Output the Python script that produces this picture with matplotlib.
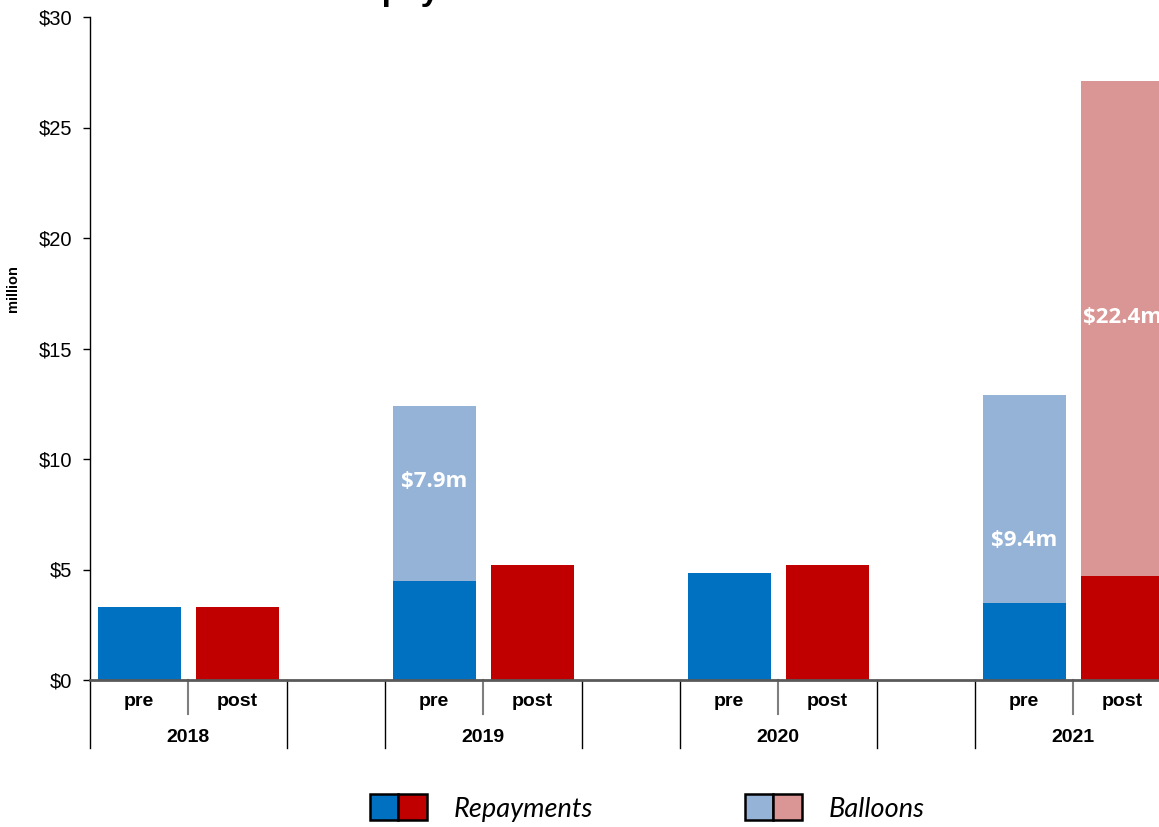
import matplotlib.pyplot as plt
from matplotlib.patches import Patch
from matplotlib.legend_handler import HandlerTuple

years = ['2018', '2019', '2020', '2021']
phases = ['pre', 'post']
pre_repay = [3.3, 4.5, 4.85, 3.5]
post_repay = [3.3, 5.2, 5.2, 4.7]
pre_balloon = [0, 7.9, 0, 9.4]
post_balloon = [0, 0, 0, 22.4]

c_repay = ['#0070C0', '#C00000']
c_balloon = ['#95B3D7', '#D99694']

narrow = ['Liberation Sans Narrow', 'Liberation Sans', 'DejaVu Sans']
W, H = 1159, 827
fig = plt.figure(figsize=(W / 100, H / 100), dpi=100)
ax = fig.add_axes([90 / W, (H - 680) / H, 1180 / W, 663 / H])

# three slots per year: pre, post, blank
x_pre = [3 * i for i in range(len(years))]
x_post = [3 * i + 1 for i in range(len(years))]
bw = 0.845
ax.bar(x_pre, pre_repay, bw, color=c_repay[0])
ax.bar(x_pre, pre_balloon, bw, bottom=pre_repay, color=c_balloon[0])
ax.bar(x_post, post_repay, bw, color=c_repay[1])
ax.bar(x_post, post_balloon, bw, bottom=post_repay, color=c_balloon[1])

# balloon value labels
lab_y_pre = [None, 9.0, None, 6.3]
lab_y_post = [None, None, None, 16.4]
for xs, vals, ly in [(x_pre, pre_balloon, lab_y_pre), (x_post, post_balloon, lab_y_post)]:
    for x, v, y in zip(xs, vals, ly):
        if v:
            ax.text(x, y, f'${v:.1f}m', ha='center', va='center', color='white',
                    fontsize=16, fontweight='bold', family=['Open Sans', 'DejaVu Sans'])

ax.set_xlim(-0.5, 11.5)
ax.set_ylim(0, 30)
ax.set_yticks(range(0, 31, 5))
ax.set_yticklabels([f'${v}' for v in range(0, 31, 5)], family=narrow, fontsize=14.5)
ax.tick_params(axis='y', length=5, width=1, pad=8)
ax.set_xticks([])
for s in ['top', 'right']:
    ax.spines[s].set_visible(False)
ax.spines['left'].set_linewidth(1)
ax.spines['bottom'].set_color('#595959')
ax.spines['bottom'].set_linewidth(2)

ax.set_ylabel('million', family=['Liberation Sans', 'DejaVu Sans'], fontsize=10.5,
              fontweight='bold', labelpad=0)
ax.yaxis.set_label_coords(-70 / 1180, 0.59)

# two-level category axis
tr = ax.get_xaxis_transform()
for k in range(13):
    edge = k - 0.5
    if k % 3 == 1:
        ax.plot([edge, edge], [0, -34 / 663], transform=tr, color='#7f7f7f',
                lw=1.5, clip_on=False)
    else:
        ax.plot([edge, edge], [0, -68 / 663], transform=tr, color='black',
                lw=1, clip_on=False)
for i, yr in enumerate(years):
    for j, ph in enumerate(phases):
        ax.text(3 * i + j, -22 / 663, ph, transform=tr, ha='center', va='center',
                family=narrow, fontsize=14, fontweight='bold')
    ax.text(3 * i + 0.5, -57 / 663, yr, transform=tr, ha='center', va='center',
            family=narrow, fontsize=14, fontweight='bold')

fig.text(340 / W, 1.0, 'Repayments', ha='left', va='baseline', fontsize=24,
         fontweight='bold', family=['Liberation Sans', 'DejaVu Sans'])

h_repay = (Patch(facecolor=c_repay[0], edgecolor='black', lw=1.8),
           Patch(facecolor=c_repay[1], edgecolor='black', lw=1.8))
h_balloon = (Patch(facecolor=c_balloon[0], edgecolor='black', lw=1.8),
             Patch(facecolor=c_balloon[1], edgecolor='black', lw=1.8))
fig.legend([h_repay, h_balloon], ['Repayments', 'Balloons'],
           handler_map={tuple: HandlerTuple(ndivide=None, pad=0)},
           loc='center left', bbox_to_anchor=(370 / W, 1 - 808 / H), ncol=2,
           frameon=False, prop={'family': ['Lato', 'DejaVu Sans'], 'style': 'italic', 'size': 19.5},
           handlelength=2.1, handleheight=1.1, handletextpad=1.0, columnspacing=5.6,
           borderpad=0, borderaxespad=0)

fig.savefig('out.png', dpi=100)
